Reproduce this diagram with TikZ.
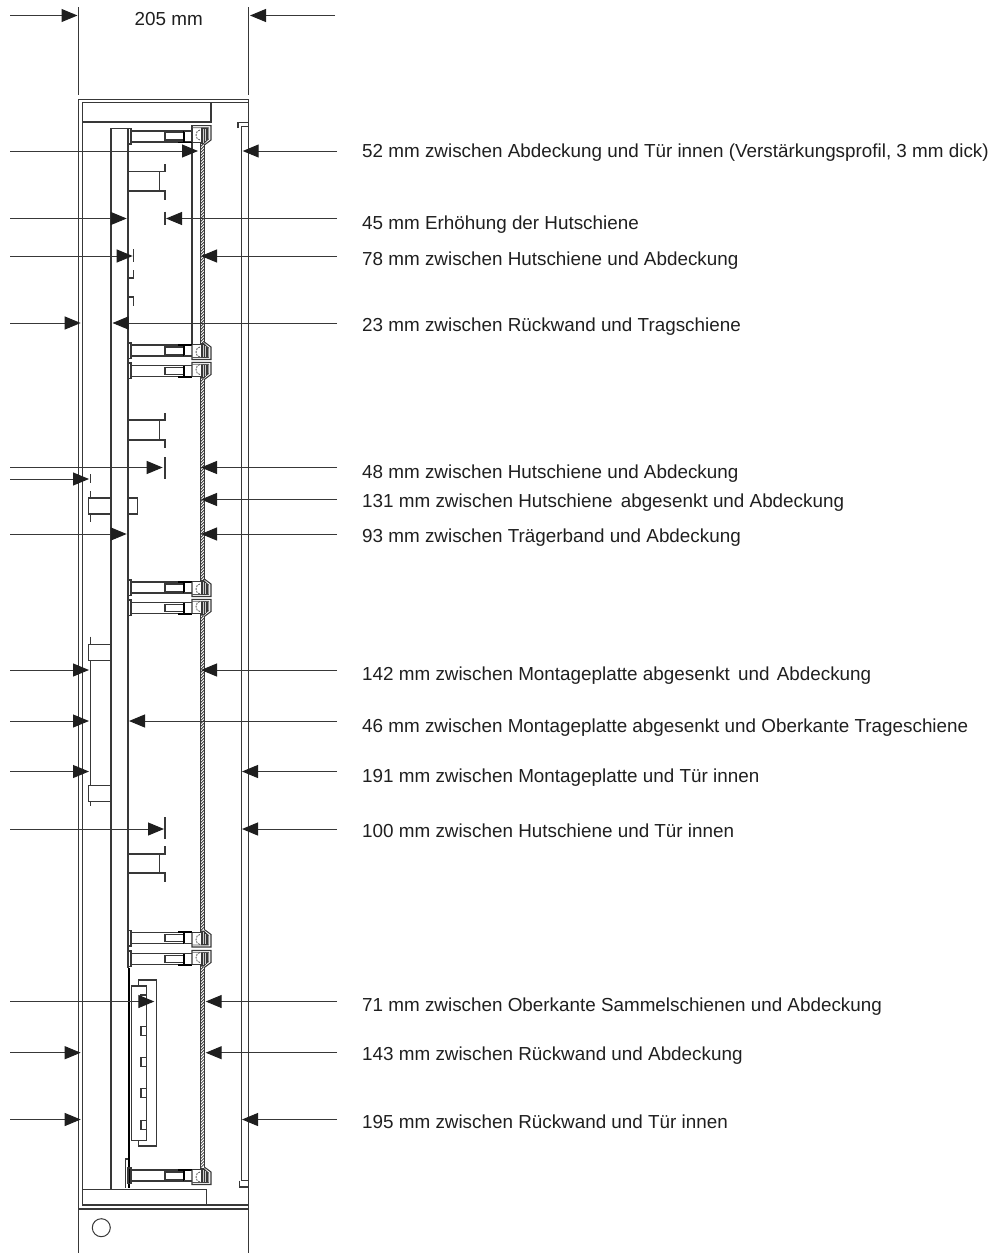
\documentclass[tikz,border=0pt]{standalone}
\usepackage{fontspec}
\setmainfont{Liberation Sans}
\usetikzlibrary{arrows.meta}
\definecolor{ink}{HTML}{383838}
\definecolor{tipink}{HTML}{1E1E1E}
\tikzset{
  ln/.style={draw=ink,line width=1.05bp},
  thin ln/.style={draw=ink!85,line width=0.8bp},
  heavy/.style={draw=black,line width=1.6bp},
  dimline/.style={draw=ink,line width=1bp,-{Triangle[length=16bp,width=13bp,color=tipink]}},
  lbl/.style={anchor=base west,inner sep=0pt,font=\fontsize{18.85bp}{21bp}\selectfont,text=black!88},
}
% #1 centre y, #2 mirror sign, #3 bracket edge offset
\newcommand{\mountpart}[3]{%
\begin{scope}[shift={(0,#1)},yscale=#2]
  \draw[ln,line width=1.3bp] (128,-8) rectangle (131,7.5);
  \draw[ln] (131,-5.5) -- (184,-5.5) (131,5.5) -- (192,5.5);
  \draw[ln] (165,-3.8) rectangle (184,3.5);
  \draw[heavy] (184,-5.5) -- (184,5.5) (178,5.8) -- (192,5.8);
  \draw[ln] (184,-5.5) -- (192,-5.5);
  \draw[ln] (192,5.5) -- (192,#3) -- (211,#3) -- (211,3.5) -- (204.3,8.5);
  \draw[thin ln] (192,#3+2) -- (208.7,#3+2) -- (208.7,2.6) -- (204.3,6);
  \draw[ln] (192,5.8) -- (200.3,5.8) -- (200.3,8.5);
  \draw[thin ln,dash pattern=on 2bp off 1bp] (200,-6.5) arc (-90:-270:4 and 5);
  \fill[ink] (201,#3+2) -- (207.8,#3+2) -- (207.8,3) -- (204,7.5) -- (201,7.5) -- cycle;
  \draw[white!80!black,line width=0.7bp] (203,#3+3) -- (203,6) (205.3,#3+3) -- (205.3,4.5);
\end{scope}}
\newcommand{\hatrail}[4]{%
  % #1 = top line y, #2 = bottom line y, #3 = upper flange end, #4 = lower flange end
  \draw[ln] (128,#1) -- (165,#1) -- (165,#3) (128,#2) -- (165,#2) -- (165,#4) (159.3,#1) -- (159.3,#2);}
\newcommand{\coverpart}[2]{%
  \draw[ln] (200.3,#1) -- (200.3,#2) (204.3,#1) -- (204.3,#2);
  \begin{scope}
    \clip (200.3,#1) rectangle (204.3,#2);
    \pgfmathsetmacro{\ynext}{#1+3}
    \foreach \yy in {#1,\ynext,...,#2}{
      \draw[draw=ink,line width=0.8bp] (200.3,\yy+3) -- (204.3,\yy-1);
    }
  \end{scope}}
\begin{document}
\begin{tikzpicture}[x=1bp,y=-1bp]
\useasboundingbox (0,0) rectangle (992,1253);
% extension lines and enclosure
\draw[ln] (78.5,7) -- (78.5,95) (248.2,7) -- (248.2,95);
\draw[ln] (78.5,99.3) -- (78.5,1253) (248.7,99.3) -- (248.7,1253);
\draw[ln] (78.5,99.3) -- (248.7,99.3);
\draw[ln] (82.3,1205) -- (82.3,102.3) -- (248.7,102.3);
\draw[ln] (82.3,122) -- (211,122) -- (211,102.3);
\draw[ln] (78.5,1209) -- (248.7,1209);
\draw[ln] (82.3,1205) -- (248.7,1205);
\draw[ln] (82.3,1189.3) -- (206.7,1189.3) -- (206.7,1205);
\node[circle,draw=ink,line width=1bp,minimum size=18bp,inner sep=0pt] (hole) at (101.3,1227.7) {};
% carrier rail
\draw[ln] (111,1189) -- (111,128.7) -- (128,128.7);
\draw[ln] (128,128.7) -- (128,968);
\draw[heavy] (129,968) -- (129,1188);
\draw[ln] (125.7,1188) -- (125.7,1159) -- (128,1159);
% first section inner bracket
\draw[ln] (192,125) -- (192,345);
% door
\draw[ln] (238,128) -- (238,122.7) -- (248.7,122.7);
\draw[ln] (241.7,1180.7) -- (241.7,126.7) -- (248,126.7);
\draw[ln,line width=1.3bp] (248.2,122.7) -- (248.2,1187);
\draw[ln] (241.7,1180.7) -- (248,1180.7) (239.3,1180.7) -- (239.3,1187) -- (248.7,1187);
% cover
\coverpart{144}{342}
\coverpart{379}{580}
\coverpart{616}{930}
\coverpart{967}{1167}
% mounts
\mountpart{136.5}{1}{-10.8}
\mountpart{350.5}{-1}{-9}
\mountpart{371}{1}{-8.7}
\mountpart{587.5}{-1}{-9}
\mountpart{608}{1}{-8.7}
\mountpart{938}{-1}{-9}
\mountpart{959}{1}{-8.7}
\mountpart{1175.5}{-1}{-9}
% top-hat rails
\hatrail{171.7}{191}{164}{199.7}
\hatrail{420}{440}{412.7}{448}
\hatrail{854}{873}{846}{881.7}
\draw[ln] (128,278) -- (133.3,278) -- (133.3,270) (128,297) -- (133.3,297) -- (133.3,306);
\draw[ln,line width=1.3bp] (128,278) -- (128,297);
% ticks
\draw[ln] (165,211.7) -- (165,225) (133.3,249) -- (133.3,261.7) (165,457) -- (165,479)
  (90.7,474) -- (90.7,483) (165,817.3) -- (165,839);
% lowered rail block
\draw[ln] (111,498) -- (88.7,498) -- (88.7,514) -- (111,514);
\draw[ln] (90.7,491) -- (90.7,498) (90.7,514) -- (90.7,522);
\draw[ln] (128,498) -- (137.7,498) -- (137.7,514) -- (128,514);
% lowered mounting plate
\draw[ln] (88.7,644.3) rectangle (111,660.3);
\draw[ln] (88.7,785.3) rectangle (111,801.3);
\draw[ln] (90.7,636.7) -- (90.7,644.3) (90.7,660.3) -- (90.7,785.3) (90.7,801.3) -- (90.7,806);
% busbars
\draw[ln] (138.3,986) -- (138.3,980) -- (156.3,980) -- (156.3,1146) -- (138.3,1146) -- (138.3,1140.7);
\draw[ln] (131.7,986) rectangle (146.3,1140.7);
\foreach \yy in {995,1026.7,1057.7,1088.7,1120.7}{
  \draw[ln] (141,\yy) rectangle (146.3,\yy+8.5);
}
% dimension arrows
\foreach \yy/\lx/\rx in {
  151/198/242.7, 218.5/126.7/166, 256/132.7/201,
  323/80.7/112.5, 467.5/162.7/201, 534/126.7/201,
  670/89/201, 721/89/129, 771.5/89/242, 829/164/242,
  1001.5/154.3/205.7, 1052.7/80.7/205.7, 1119.5/80.7/242}{
  \draw[dimline] (10,\yy) -- (\lx,\yy);
  \draw[dimline] (337,\yy) -- (\rx,\yy);
}
\draw[dimline] (10,479) -- (89,479);
\draw[dimline] (337,499.5) -- (201,499.5);
\draw[dimline] (10,15.5) -- (77.5,15.5);
\draw[dimline] (335,15.5) -- (250,15.5);
% labels
\node[lbl] (t0) at (134.5,25) {205 mm};
\node[lbl] (t1) at (362,157) {52 mm zwischen Abdeckung und Tür innen (Verstärkungsprofil, 3 mm dick)};
\node[lbl] (t2) at (362,229.5) {45 mm Erhöhung der Hutschiene};
\node[lbl] (t3) at (362,265.5) {78 mm zwischen Hutschiene und Abdeckung};
\node[lbl] (t4) at (362,331.5) {23 mm zwischen Rückwand und Tragschiene};
\node[lbl] (t5) at (362,478) {48 mm zwischen Hutschiene und Abdeckung};
\node[lbl] (t6) at (362,507) {131 mm zwischen Hutschiene\hspace{3bp} abgesenkt und Abdeckung};
\node[lbl] (t7) at (362,542) {93 mm zwischen Trägerband und Abdeckung};
\node[lbl] (t8) at (362,680.5) {142 mm zwischen Montageplatte abgesenkt\hspace{3bp} und\hspace{2bp} Abdeckung};
\node[lbl] (t9) at (362,732.5) {46 mm zwischen Montageplatte abgesenkt und Oberkante Trageschiene};
\node[lbl] (t10) at (362,782) {191 mm zwischen Montageplatte und Tür innen};
\node[lbl] (t11) at (362,837) {100 mm zwischen Hutschiene und Tür innen};
\node[lbl] (t12) at (362,1011) {71 mm zwischen Oberkante Sammelschienen und Abdeckung};
\node[lbl] (t13) at (362,1060.5) {143 mm zwischen Rückwand und Abdeckung};
\node[lbl] (t14) at (362,1128.5) {195 mm zwischen Rückwand und Tür innen};
\end{tikzpicture}
\end{document}
